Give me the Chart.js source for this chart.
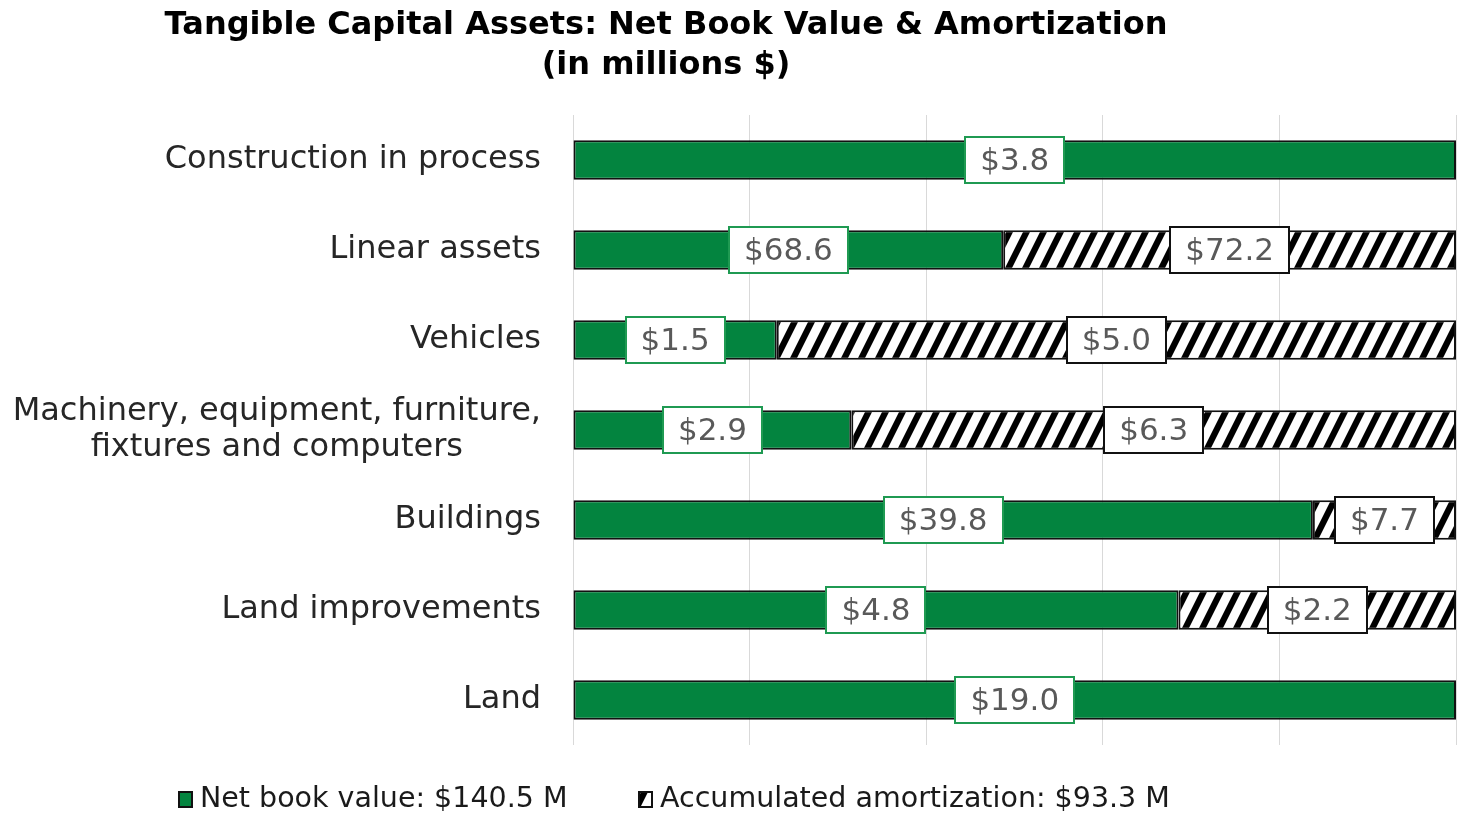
<!DOCTYPE html>
<html><head><meta charset="utf-8">
<script src="https://cdn.jsdelivr.net/npm/chart.js@4.4.0/dist/chart.umd.min.js"></script>
<style>html,body{margin:0;padding:0;background:#fff}#wrap{width:1468px;height:815px;position:relative}canvas{display:block}</style>
</head><body><div id="wrap"><canvas id="c" width="1468" height="815"></canvas></div>
<script>
// ---- data ----
const categories = [
  ["Construction in process"],
  ["Linear assets"],
  ["Vehicles"],
  ["Machinery, equipment, furniture,", "fixtures and computers"],
  ["Buildings"],
  ["Land improvements"],
  ["Land"]
];
const netBookValue = [3.8, 68.6, 1.5, 2.9, 39.8, 4.8, 19.0];
const accumulatedAmortization = [0, 72.2, 5.0, 6.3, 7.7, 2.2, 0];
const seriesNames = ["Net book value: $140.5 M", "Accumulated amortization: $93.3 M"];
const titleLines = ["Tangible Capital Assets: Net Book Value & Amortization", "(in millions $)"];
const gridStep = 20;

// share of each row (100% stacked)
const totals = netBookValue.map((v, i) => v + accumulatedAmortization[i]);
const nbvShare = netBookValue.map((v, i) => v / totals[i] * 100);
const aaShare = accumulatedAmortization.map((v, i) => v / totals[i] * 100);

const FONT = '"DejaVu Sans", Verdana, sans-serif';
const GREEN = '#03843f';

const canvas = document.getElementById('c');
const ctx0 = canvas.getContext('2d');

function makeHatch(ctx) {
  const w = 17, h = 34, b = 7;
  const p = document.createElement('canvas');
  p.width = w; p.height = h;
  const g = p.getContext('2d');
  g.fillStyle = '#fff'; g.fillRect(0, 0, w, h);
  g.fillStyle = '#000';
  for (let k = -1; k <= 2; k++) {
    const x0 = k * w;
    g.beginPath();
    g.moveTo(x0, 0); g.lineTo(x0 + b, 0);
    g.lineTo(x0 + b - w, h); g.lineTo(x0 - w, h);
    g.closePath(); g.fill();
  }
  return ctx.createPattern(p, 'repeat');
}
const hatch = makeHatch(ctx0);

const boxLabels = {
  id: 'boxLabels',
  afterDatasetsDraw(chart) {
    const ctx = chart.ctx;
    const raw = [netBookValue, accumulatedAmortization];
    const borders = ['#1f9a52', '#111111'];
    ctx.save();
    ctx.font = '31px ' + FONT;
    ctx.textAlign = 'center';
    ctx.textBaseline = 'middle';
    chart.data.datasets.forEach((ds, di) => {
      const meta = chart.getDatasetMeta(di);
      meta.data.forEach((el, i) => {
        const v = raw[di][i];
        if (!v) return;
        const p = el.getProps(['x', 'base', 'y'], true);
        const cx = (p.x + p.base) / 2;
        const txt = '$' + v.toFixed(1);
        const w = Math.round(ctx.measureText(txt).width + 32), h = 48;
        const bx = Math.round(cx - w / 2), by = Math.round(p.y - h / 2);
        ctx.fillStyle = '#fff';
        ctx.fillRect(bx, by, w, h);
        ctx.lineWidth = 2;
        ctx.strokeStyle = borders[di];
        ctx.strokeRect(bx + 1, by + 1, w - 2, h - 2);
        ctx.fillStyle = '#595959';
        ctx.fillText(txt, cx, p.y + 2);
      });
    });
    ctx.restore();
  },
  afterDraw(chart) {
    const ctx = chart.ctx;
    const yScale = chart.scales.y;
    ctx.save();
    // category labels
    ctx.font = '32px ' + FONT;
    ctx.fillStyle = '#262626';
    ctx.textBaseline = 'middle';
    ctx.textAlign = 'center';
    const rightX = chart.chartArea.left - 32;
    const lh = 36;
    categories.forEach((lines, i) => {
      const yc = yScale.getPixelForValue(i);
      const widest = Math.max(...lines.map(l => ctx.measureText(l).width));
      const cx = rightX - widest / 2;
      const y0 = yc - (lines.length - 1) * lh / 2;
      lines.forEach((l, k) => ctx.fillText(l, cx, y0 + k * lh));
    });
    // title
    ctx.font = 'bold 32px ' + FONT;
    ctx.fillStyle = '#000';
    ctx.fillText(titleLines[0], 666, 26);
    ctx.fillText(titleLines[1], 666, 66);
    // legend
    ctx.font = '28.5px ' + FONT;
    ctx.textAlign = 'left';
    const items = [
      {x: 178, fill: GREEN},
      {x: 638, fill: hatch}
    ];
    items.forEach((it, k) => {
      ctx.fillStyle = it.fill;
      ctx.fillRect(it.x, 791, 15, 17);
      ctx.lineWidth = 2;
      ctx.strokeStyle = '#111';
      ctx.strokeRect(it.x + 1, 792, 13, 15);
      ctx.fillStyle = '#1a1a1a';
      ctx.fillText(seriesNames[k], it.x + 22, 800);
    });
    ctx.restore();
  }
};

new Chart(canvas, {
  type: 'bar',
  data: {
    labels: categories.map(c => c.join(' ')),
    datasets: [
      {
        label: seriesNames[0], data: nbvShare,
        backgroundColor: GREEN, borderColor: '#111', borderWidth: 2, borderSkipped: false,
        categoryPercentage: 1, barPercentage: 0.44
      },
      {
        label: seriesNames[1], data: aaShare,
        backgroundColor: hatch, borderColor: '#111', borderWidth: 2, borderSkipped: false,
        categoryPercentage: 1, barPercentage: 0.44
      }
    ]
  },
  options: {
    responsive: false,
    animation: false,
    indexAxis: 'y',
    layout: {padding: {top: 115, bottom: 70, right: 12, left: 0}},
    plugins: {legend: {display: false}, title: {display: false}, tooltip: {enabled: false}},
    scales: {
      x: {
        stacked: true, min: 0, max: 100,
        ticks: {display: false, stepSize: gridStep},
        grid: {color: '#d9d9d9', lineWidth: 1, drawTicks: false},
        border: {display: false},
        afterFit(s) { s.height = 0; }
      },
      y: {
        stacked: true,
        ticks: {display: false},
        grid: {display: false},
        border: {display: false},
        afterFit(s) { s.width = 573; }
      }
    }
  },
  plugins: [boxLabels]
});
</script>
</body></html>
